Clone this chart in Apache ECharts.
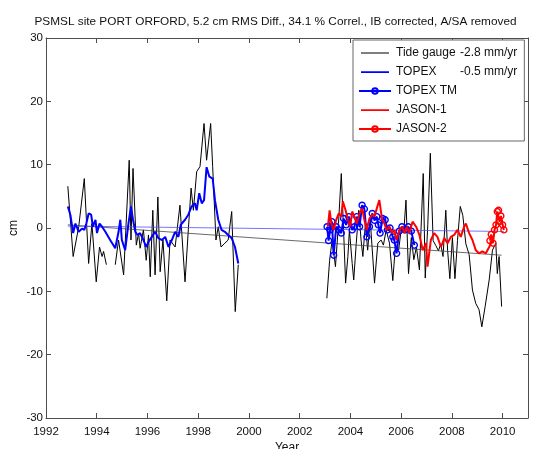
<!DOCTYPE html>
<html>
<head>
<meta charset="utf-8">
<script src="https://cdn.jsdelivr.net/npm/echarts@6/dist/echarts.min.js"></script>
<style>
  html, body { margin: 0; padding: 0; background: #fff; }
  #chart { width: 551px; height: 449px; }
</style>
</head>
<body>
<div id="chart"></div>
<script>
// Sea level anomaly at Port Orford: tide gauge vs. altimetry (cm)
const FONT = '"Liberation Sans", Arial, Helvetica, sans-serif';
const titleText = 'PSMSL site PORT ORFORD, 5.2 cm RMS Diff., 34.1 % Correl., IB corrected, A/SA removed';
const xName = 'Year';
const yName = 'cm';
const seriesNames = ['Tide gauge', 'TOPEX', 'TOPEX TM', 'JASON-1', 'JASON-2'];
const trendRates = ['-2.8 mm/yr', '-0.5 mm/yr', '', '', ''];
const xRange = [1992, 2011];
const xStep = 2;
const yRange = [-30, 30];
const yStep = 10;

// Tide gauge record (null marks missing data)
const tideGaugeYears = [
  1992.86, 1993.07, 1993.29, 1993.51, 1993.68, 1993.81, 1993.98, 1994.11, 1994.21, 1994.27, 1994.38, 1994.55,
  1994.73, 1994.86, 1995.06, 1995.28, 1995.35, 1995.43, 1995.56, 1995.65, 1995.71, 1995.84, 1995.95, 1996.04,
  1996.11, 1996.21, 1996.30, 1996.41, 1996.50, 1996.61, 1996.76, 1996.89, 1997.09, 1997.28, 1997.48, 1997.61,
  1997.72, 1997.81, 1997.94, 1998.07, 1998.23, 1998.33, 1998.49, 1998.57, 1998.70, 1998.79, 1998.90, 1999.05,
  1999.18, 1999.32, 1999.46, 1999.58, 2001.00,
  2003.07, 2003.18, 2003.28, 2003.41, 2003.53, 2003.64, 2003.73, 2003.81, 2003.90, 2003.96, 2004.07, 2004.13,
  2004.23, 2004.33, 2004.42, 2004.49, 2004.59, 2004.68, 2004.78, 2004.95, 2005.08, 2005.21, 2005.30, 2005.41,
  2005.54, 2005.67, 2005.77, 2005.90, 2006.00, 2006.10, 2006.19, 2006.29, 2006.40, 2006.50, 2006.60, 2006.72,
  2006.87, 2006.95, 2007.05, 2007.15, 2007.26, 2007.37, 2007.47, 2007.56, 2007.65, 2007.76, 2007.83, 2007.92,
  2008.02, 2008.12, 2008.22, 2008.33, 2008.43, 2008.55, 2008.68, 2008.81, 2008.94, 2009.07, 2009.18, 2009.31,
  2009.47, 2009.60, 2009.73, 2009.79, 2009.86, 2009.96
];
const tideGaugeCm = [
  6.6, -4.5, 0.2, 7.8, -5.6, 0.7, -8.5, -3.0, -4.5, -3.7, -5.8, null,
  -5.8, -1.9, -7.4, 10.7, -1.9, 9.4, -2.7, -0.8, -3.2, -0.3, -5.1, -1.1,
  -7.7, 2.8, -7.4, 4.9, -6.9, -1.9, -11.5, -1.9, -3.0, 3.6, -8.5, -0.3,
  6.3, 2.8, 8.9, 9.7, 16.5, 10.7, 16.5, 9.7, -1.9, 0.2, -3.0, -2.4,
  -1.9, 2.6, -13.2, -5.8, null,
  -11.1, -5.1, -1.9, -6.1, 0.7, 8.6, -0.3, -8.7, -4.5, -0.3, -5.6, -8.2,
  -2.4, 2.8, -1.9, -4.5, 0.7, -3.5, 1.3, -8.7, -2.4, -1.9, -2.7, -0.3,
  -2.4, -8.3, -3.0, -3.5, -0.3, -0.8, 4.4, -7.2, -1.5, -5.0, -3.0, -6.6,
  8.6, -7.9, 0.5, 11.8, -2.0, -2.8, -3.6, -2.5, -4.5, 2.8, -3.5, -8.0,
  -1.5, -8.0, -2.0, 3.4, 2.0, -2.5, -4.2, -9.8, -11.9, -12.9, -15.6, -12.4,
  -8.2, -3.5, -2.4, -7.2, -4.5, -12.4
];

// TOPEX altimetry
const topexYears = [
  1992.86, 1992.96, 1993.07, 1993.16, 1993.29, 1993.42, 1993.51, 1993.59, 1993.68, 1993.78, 1993.85, 1993.95,
  1994.01, 1994.11, 1994.21, 1994.34, 1994.53, 1994.73, 1994.86, 1994.93, 1994.99, 1995.12, 1995.25, 1995.35,
  1995.43, 1995.52, 1995.61, 1995.71, 1995.84, 1995.95, 1996.04, 1996.17, 1996.30, 1996.43, 1996.57, 1996.70,
  1996.83, 1996.96, 1997.09, 1997.22, 1997.31, 1997.48, 1997.61, 1997.74, 1997.87, 1997.94, 1998.04, 1998.14,
  1998.23, 1998.33, 1998.44, 1998.57, 1998.66, 1998.79, 1998.92, 1999.05, 1999.18, 1999.32, 1999.45, 1999.58
];
const topexCm = [
  3.4, 2.1, -0.8, 0.7, -0.6, -0.1, -0.3, 0.7, 2.3, 2.1, 0.2, 1.3,
  -0.8, 0.7, 0.2, -0.6, -1.9, -3.2, -0.6, 1.3, -1.9, -3.5, 0.7, 3.4,
  1.3, -0.6, -1.1, -0.8, -1.9, -3.0, -2.2, -1.4, -0.6, -1.6, -1.9, -1.4,
  -3.0, -1.9, -0.6, -1.4, 0.5, 1.3, 2.1, 3.4, 3.9, 2.8, 5.5, 3.9,
  4.4, 9.6, 8.1, 7.8, 4.4, 1.3, -0.3, -0.6, -1.1, -1.6, -3.0, -5.6
];

// TOPEX tandem mission
const topexTmYears = [
  2003.08, 2003.14, 2003.20, 2003.27, 2003.34, 2003.44, 2003.54, 2003.64, 2003.73, 2003.83, 2003.94, 2004.07,
  2004.16, 2004.25, 2004.36, 2004.46, 2004.55, 2004.65, 2004.75, 2004.86, 2004.95, 2005.04, 2005.10, 2005.17,
  2005.27, 2005.37, 2005.46, 2005.56, 2005.67, 2005.73, 2005.82, 2005.92, 2006.03, 2006.15, 2006.28, 2006.40,
  2006.52
];
const topexTmCm = [
  0.2, -2.0, -0.3, 1.0, -4.3, 0.2, -0.3, -0.8, 1.5, 0.5, 1.8, -0.3,
  0.2, 1.8, 0.2, 3.6, 3.0, -1.4, 0.2, 2.3, 1.2, 1.8, 0.5, -0.8,
  1.5, 1.3, -0.3, 0.0, -1.4, -1.9, -4.0, -0.5, 0.2, -0.3, 0.2, -0.5,
  -2.7
];

// JASON-1
const jason1Years = [
  2003.11, 2003.18, 2003.25, 2003.34, 2003.44, 2003.54, 2003.64, 2003.70, 2003.81, 2003.90, 2003.99, 2004.07,
  2004.16, 2004.25, 2004.36, 2004.46, 2004.55, 2004.64, 2004.75, 2004.86, 2004.95, 2005.04, 2005.14, 2005.25,
  2005.34, 2005.43, 2005.54, 2005.64, 2005.73, 2005.82, 2005.93, 2006.04, 2006.13, 2006.22, 2006.32, 2006.45,
  2006.59, 2006.72, 2006.85, 2006.98, 2007.04, 2007.17, 2007.30, 2007.43, 2007.57, 2007.70, 2007.83, 2007.96,
  2008.09, 2008.22, 2008.35, 2008.48, 2008.55, 2008.68, 2008.81, 2008.94, 2009.07, 2009.20, 2009.34, 2009.47,
  2009.60
];
const jason1Cm = [
  0.2, 2.8, 0.7, -0.3, 1.3, 2.3, 1.8, 4.2, 2.8, 1.3, 0.2, 2.6,
  1.8, 0.7, 2.3, 3.1, 1.3, -0.3, 1.5, 2.1, 1.8, 3.1, 4.4, 1.3,
  0.7, -0.3, 0.2, -0.8, -0.3, -1.9, -0.3, 0.2, -0.8, 0.2, -0.8, 1.0,
  0.2, -1.1, -3.5, -2.4, -6.1, -1.9, -0.8, -1.4, -3.0, -1.6, -2.4, -1.4,
  -1.1, -0.3, -1.4, 0.2, 0.7, -0.8, -1.9, -3.5, -4.0, -3.7, -4.0, -3.0,
  -1.9
];

// JASON-2
const jason2Years = [2009.50, 2009.55, 2009.62, 2009.68, 2009.74, 2009.79, 2009.84, 2009.88, 2009.93, 2010.00, 2010.05];
const jason2Cm = [-2.0, -1.0, -2.4, -0.3, 0.5, 2.6, 2.8, 1.0, 1.9, 0.5, -0.3];

// Linear trends (start and end of record)
const tideGaugeTrendYears = [1992.86, 2009.96];
const tideGaugeTrendCm = [0.5, -4.3];
const topexTrendYears = [1992.86, 2010.05];
const topexTrendCm = [0.3, -0.55];

const pairs = (ys, vs) => ys.map((t, i) => [t, vs[i] === null ? '-' : vs[i]]);

const BLACK = '#000000';
const BLUE = '#0000ff';
const RED = '#ff0000';
const AXIS = '#4d4d4d';

// Legend icon for a plain line: invisible zero-area strokes set the 32x8 box, the bar is the line
const barIcon = (h) => 'path://M0,0L32,0Z M0,8L32,8Z M0,' + (4 - h / 2) + 'H32V' + (4 + h / 2) + 'H0Z';

const chart = echarts.init(document.getElementById('chart'), null, { renderer: 'canvas' });

const axisCommon = {
  type: 'value',
  splitLine: { show: false },
  axisLine: { show: true, onZero: false, lineStyle: { color: AXIS, width: 1 } },
  axisTick: { show: true, inside: true, length: 5, lineStyle: { color: AXIS, width: 1 } }
};

chart.setOption({
  animation: false,
  backgroundColor: '#ffffff',
  textStyle: { fontFamily: FONT },
  title: {
    text: titleText,
    left: 'center',
    top: 11,
    textStyle: { fontFamily: FONT, fontSize: 11.8, fontWeight: 'normal', color: '#111' }
  },
  grid: { left: 46, top: 38, right: 23, bottom: 31, containLabel: false, outerBoundsMode: 'none' },
  legend: {
    orient: 'vertical',
    left: 353,
    top: 40,
    padding: [7, 7, 6, 5],
    itemWidth: 32,
    itemHeight: 7,
    itemGap: 7,
    backgroundColor: '#ffffff',
    borderColor: '#666',
    borderWidth: 1,
    borderRadius: 0,
    selectedMode: false,
    data: [
      { name: seriesNames[0], icon: barIcon(1.1), itemStyle: { color: BLACK, borderWidth: 0 } },
      { name: seriesNames[1], icon: barIcon(2), itemStyle: { color: BLUE, borderWidth: 0 } },
      { name: seriesNames[2] },
      { name: seriesNames[3], icon: barIcon(2), itemStyle: { color: RED, borderWidth: 0 } },
      { name: seriesNames[4] }
    ],
    formatter: (name) => {
      const rate = trendRates[seriesNames.indexOf(name)];
      return rate ? '{n|' + name + '}{r|' + rate + '}' : name;
    },
    textStyle: {
      fontFamily: FONT, fontSize: 12, color: '#111',
      rich: {
        n: { width: 64, fontFamily: FONT, fontSize: 12, color: '#111' },
        r: { fontFamily: FONT, fontSize: 12, color: '#111' }
      }
    }
  },
  xAxis: [
    Object.assign({}, axisCommon, {
      min: xRange[0], max: xRange[1], interval: xStep, position: 'bottom',
      name: xName, nameLocation: 'middle', nameGap: 24, nameMoveOverlap: false,
      nameTextStyle: { fontFamily: FONT, fontSize: 12, color: '#111' },
      axisLabel: {
        show: true, margin: 8, showMaxLabel: false, fontFamily: FONT, fontSize: 11.5, color: '#111',
        formatter: (v) => String(v)
      }
    }),
    Object.assign({}, axisCommon, {
      min: xRange[0], max: xRange[1], interval: xStep, position: 'top',
      axisLabel: { show: false }
    })
  ],
  yAxis: [
    Object.assign({}, axisCommon, {
      min: yRange[0], max: yRange[1], interval: yStep, position: 'left',
      name: yName, nameLocation: 'middle', nameGap: 26, nameRotate: 90, nameMoveOverlap: false,
      nameTextStyle: { fontFamily: FONT, fontSize: 12, color: '#111' },
      axisLabel: { show: true, margin: 3, fontFamily: FONT, fontSize: 11.5, color: '#111' }
    }),
    Object.assign({}, axisCommon, {
      min: yRange[0], max: yRange[1], interval: yStep, position: 'right',
      axisLabel: { show: false }
    })
  ],
  series: [
    {
      name: seriesNames[0], type: 'line', data: pairs(tideGaugeYears, tideGaugeCm),
      symbol: 'none', color: BLACK, lineStyle: { color: BLACK, width: 1 }, connectNulls: false, z: 2
    },
    {
      name: 'tide gauge trend', type: 'line', data: pairs(tideGaugeTrendYears, tideGaugeTrendCm),
      symbol: 'none', color: '#444', lineStyle: { color: '#444', width: 0.8 }, z: 3
    },
    {
      name: 'TOPEX trend', type: 'line', data: pairs(topexTrendYears, topexTrendCm),
      symbol: 'none', color: '#5050ff', lineStyle: { color: '#5050ff', width: 0.8 }, z: 3
    },
    {
      name: seriesNames[1], type: 'line', data: pairs(topexYears, topexCm),
      symbol: 'none', color: BLUE, lineStyle: { color: BLUE, width: 2 }, z: 4
    },
    {
      name: seriesNames[2], type: 'line', data: pairs(topexTmYears, topexTmCm),
      symbol: 'circle', symbolSize: 6, showSymbol: true, color: BLUE,
      lineStyle: { color: BLUE, width: 2 },
      itemStyle: { color: 'transparent', borderColor: BLUE, borderWidth: 1.4 }, z: 5
    },
    {
      name: seriesNames[3], type: 'line', data: pairs(jason1Years, jason1Cm),
      symbol: 'none', color: RED, lineStyle: { color: RED, width: 2 }, z: 6
    },
    {
      name: seriesNames[4], type: 'line', data: pairs(jason2Years, jason2Cm),
      symbol: 'circle', symbolSize: 6, showSymbol: true, color: RED,
      lineStyle: { color: RED, width: 2 },
      itemStyle: { color: 'transparent', borderColor: RED, borderWidth: 1.4 }, z: 7
    }
  ]
});
</script>
</body>
</html>
